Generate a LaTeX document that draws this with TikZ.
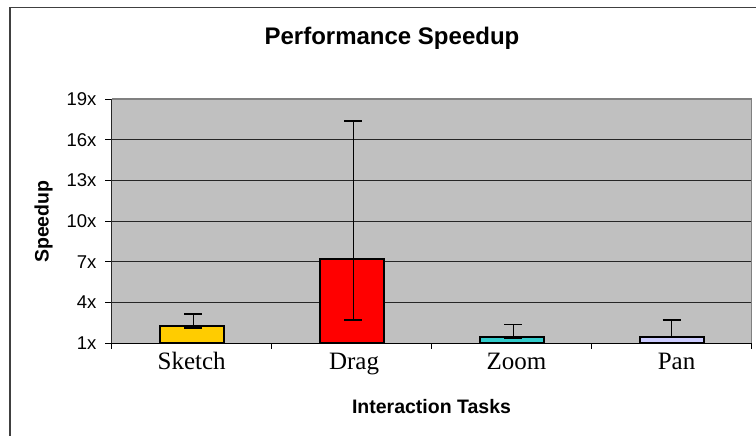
\documentclass[tikz,border=0pt]{standalone}
\usepackage{fontspec}
\setmainfont{Liberation Serif}
\newfontfamily\arialfont{Liberation Sans}
\usetikzlibrary{positioning}
\definecolor{plotgrey}{RGB}{192,192,192}
\definecolor{rimgrey}{RGB}{128,128,128}
\definecolor{framegrey}{RGB}{64,64,64}
\definecolor{sketchgold}{RGB}{255,204,0}
\definecolor{dragred}{RGB}{255,0,0}
\definecolor{zoomteal}{RGB}{51,204,204}
\definecolor{panlilac}{RGB}{204,204,255}
\tikzset{
  headline/.style={font=\arialfont\bfseries\fontsize{24}{28}\selectfont,inner sep=0pt},
  axistitle/.style={font=\arialfont\bfseries\fontsize{19.5}{23}\selectfont,inner sep=0pt},
  ticklabel/.style={font=\arialfont\fontsize{18.5}{22}\selectfont,inner sep=0pt,anchor=east},
  catlabel/.style={font=\fontsize{25}{29}\selectfont,inner sep=0pt,anchor=base},
  gridline/.style={draw=black!85,line width=1pt},
  bar/.style={draw=black,line width=2pt,fill=#1},
  bar/.default=plotgrey,
  errbar/.style={draw=black,line width=1.5pt},
}

\begin{document}
\begin{tikzpicture}[x=1pt,y=-1pt]
  \useasboundingbox (0,0) rectangle (756,436);
  \clip (0,0) rectangle (756,436);
  % chart frame, runs on past the right and lower edge
  \draw[framegrey,line width=1.5pt] (10,7.3) rectangle (780,460);
  \node[headline,anchor=base] (title) at (392,45) {Performance Speedup};
  \node[axistitle,rotate=90] (ytitle) at (43.5,221.7) {Speedup};
  \node[axistitle,anchor=base] (xtitle) at (431.5,413.3) {Interaction Tasks};

  % plot area: one unit per task across, one unit per 1x up
  \begin{scope}[shift={(111.7,356.86)},x=160pt,y=13.56pt]
    \fill[plotgrey] (0,1) rectangle (4,19);
    \foreach \v in {4,7,...,16} \draw[gridline] (0,\v) -- (4,\v);
    \draw[rimgrey,line width=1.5pt] (0,19) -- (4,19) -- (4,1);
    % value axis
    \foreach \v in {1,4,...,19} {
      \draw[black,line width=1pt] (0,\v) -- ++(-6.7pt,0);
      \node[ticklabel] (tick\v) at ([xshift=-15pt]0,\v) {\v x};
    }
    \draw[black!85,line width=1.2pt] (0,19) -- (0,1);
    % task axis
    \draw[black,line width=1.2pt] (0,1) -- (4,1);
    \foreach \c in {0,...,4} \draw[black,line width=1pt] (\c,1) -- ++(0,-5.7pt);
    % bars with min/max whiskers
    \foreach \c/\val/\lo/\hi/\col/\task/\ex/\lx in {
        1/2.28/2.13/3.16/sketchgold/Sketch/0.51/0.5,
        2/7.19/2.72/17.41/dragred/Drag/1.51/1.515,
        3/1.49/1.37/2.40/zoomteal/Zoom/2.51/2.53,
        4/1.49/1.41/2.72/panlilac/Pan/3.5/3.53} {
      \draw[bar=\col] (\c-0.7,1) rectangle (\c-0.3,\val);
      \draw[errbar] (\ex,\lo) -- (\ex,\hi)
        (\ex,\hi) ++(-9pt,0) -- ++(18pt,0)
        (\ex,\lo) ++(-9pt,0) -- ++(18pt,0);
      \node[catlabel] (cat\c) at ([yshift=-26pt]\lx,1) {\task};
    }
  \end{scope}
\end{tikzpicture}
\end{document}
